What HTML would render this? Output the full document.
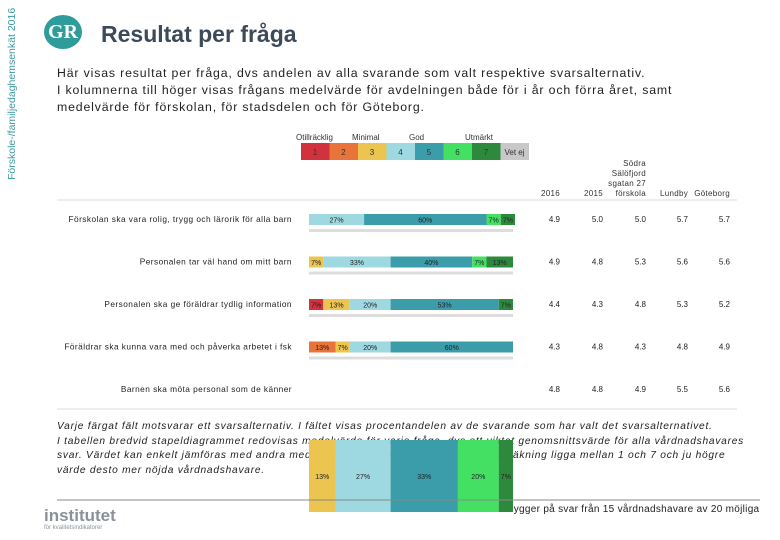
<!DOCTYPE html>
<html><head><meta charset="utf-8"><style>
body{margin:0;width:780px;height:540px;background:#fff;font-family:"Liberation Sans",sans-serif;position:relative;overflow:hidden}
.abs{position:absolute}
</style></head><body>
<div class="abs" style="left:-78px;top:84px;width:180px;transform:rotate(-90deg);font-size:10.5px;color:#3a9aa5;white-space:nowrap">Förskole-/familjedaghemsenkät 2016</div>
<div class="abs" style="left:44px;top:15px;width:38px;height:34px;border-radius:50%;background:#2e9c9a;color:#fff;font:bold 20px 'Liberation Serif',serif;text-align:center;line-height:34px">GR</div>
<div class="abs" style="left:101px;top:21px;font-size:23px;font-weight:bold;color:#3c4a5a">Resultat per fråga</div>
<div class="abs" style="left:57px;top:65px;font-size:12.3px;line-height:17px;color:#222;letter-spacing:0.85px">Här visas resultat per fråga, dvs andelen av alla svarande som valt respektive svarsalternativ.<br>I kolumnerna till höger visas frågans medelvärde för avdelningen både för i år och förra året, samt<br>medelvärde för förskolan, för stadsdelen och för Göteborg.</div>
<div class="abs" style="left:57px;top:420px;font-size:10.2px;line-height:14.5px;font-style:italic;color:#222;letter-spacing:0.75px">Varje färgat fält motsvarar ett svarsalternativ. I fältet visas procentandelen av de svarande som har valt det svarsalternativet.<br>I tabellen bredvid stapeldiagrammet redovisas medelvärde för varje fråga, dvs ett viktat genomsnittsvärde för alla vårdnadshavares<br>svar. Värdet kan enkelt jämföras med andra medelvärden. Medelvärdet kan i denna beräkning ligga mellan 1 och 7 och ju högre<br>värde desto mer nöjda vårdnadshavare.</div>
<div class="abs" style="left:485px;top:504px;font-size:10px;color:#222;letter-spacing:0.3px;white-space:nowrap">som bygger på svar från 15 vårdnadshavare av 20 möjliga</div>
<div class="abs" style="left:44px;top:508px;color:#8a9298;font-size:17px;font-weight:bold;line-height:16px">institutet<div style="font-size:6px;font-weight:normal;line-height:8px">för kvalitetsindikatorer</div></div>
<svg id="chart" class="abs" style="left:0;top:0;z-index:5" width="780" height="540"></svg>
<script>
const questions=["Förskolan ska vara rolig, trygg och lärorik för alla barn","Personalen tar väl hand om mitt barn","Personalen ska ge föräldrar tydlig information","Föräldrar ska kunna vara med och påverka arbetet i fsk","Barnen ska möta personal som de känner"];
const shares=[[0,0,0,27,60,7,7],[0,0,7,33,40,7,13],[7,0,13,20,53,0,7],[0,13,7,20,60,0,0],[0,0,13,27,33,20,7]];
const means2016=[4.9,4.9,4.4,4.3,4.8];
const means2015=[5.0,4.8,4.3,4.8,4.8];
const meansSchool=[5.0,5.3,4.8,4.3,4.9];
const meansLundby=[5.7,5.6,5.3,4.8,5.5];
const meansGbg=[5.7,5.6,5.2,4.9,5.6];
const colHeads=["2016","2015","Södra Sälöfjord sgatan 27 förskola","Lundby","Göteborg"];
const legendLabels=["1","2","3","4","5","6","7","Vet ej"];
const colors=["#d2323c","#e8743b","#ebc550","#9ed8e0","#3b9caa","#44e064","#2d8a3c","#c8c8c8"];
const svg=document.getElementById('chart');const NS="http://www.w3.org/2000/svg";
function mk(t,a,txt){const e=document.createElementNS(NS,t);for(const k in a)e.setAttribute(k,a[k]);if(txt!==undefined)e.textContent=txt;svg.appendChild(e);return e;}
const x0=309,barW=204;const xs=v=>x0+v/100*barW;
const rowY=i=>219+i*42.5;
legendLabels.forEach((l,i)=>{const r=mk('rect',{x:301+i*28.5,y:143,width:28.5,height:17,fill:colors[i]});

const t=mk('text',{x:315+i*28.5,y:155,'font-size':8,'text-anchor':'middle',fill:'#333'},l);
});
[["Otillräcklig",301],["Minimal",357],["God",414],["Utmärkt",470]].forEach(([s,x])=>{const t=mk('text',{x:x-5,y:140,'font-size':8,fill:'#333'},s);
});
const colX=[560,603,646,688,730];
colHeads.forEach((h,i)=>{const parts=i==2?["Södra","Sälöfjord","sgatan 27","förskola"]:[h];
parts.forEach((p,j)=>{const t=mk('text',{x:colX[i],y:196-(parts.length-1-j)*10,'font-size':8,'text-anchor':'end',fill:'#333','letter-spacing':0.3},p);
});});
mk('line',{x1:57,y1:200,x2:737,y2:200,stroke:'#ddd'});
questions.forEach((q,i)=>{const y=rowY(i);
const t=mk('text',{x:292,y:y+3,'font-size':8.3,'text-anchor':'end',fill:'#222','letter-spacing':0.45},q);

if(i<4){mk('rect',{x:x0,y:y+10,width:barW,height:3,fill:'#ddd'});}
let cum=0;const top=i<4?y-5:440,h=i<4?11:72;
shares[i].forEach((v,k)=>{if(v>0){const r=mk('rect',{x:xs(cum),y:top,width:xs(cum+v)-xs(cum),height:h,fill:colors[k]});

const tt=mk('text',{x:(xs(cum)+xs(cum+v))/2,y:top+h/2+3,'font-size':7,'text-anchor':'middle',fill:'#222'},v+'%');
}
cum+=v;});
[means2016,means2015,meansSchool,meansLundby,meansGbg].forEach((arr,c)=>{const n=mk('text',{x:colX[c],y:y+3,'font-size':8,'text-anchor':'end',fill:'#222'},arr[i].toFixed(1));
});});
mk('line',{x1:57,y1:409,x2:737,y2:409,stroke:'#ddd'});
mk('line',{x1:57,y1:500,x2:760,y2:500,stroke:'#888'});
</script>
</body></html>
